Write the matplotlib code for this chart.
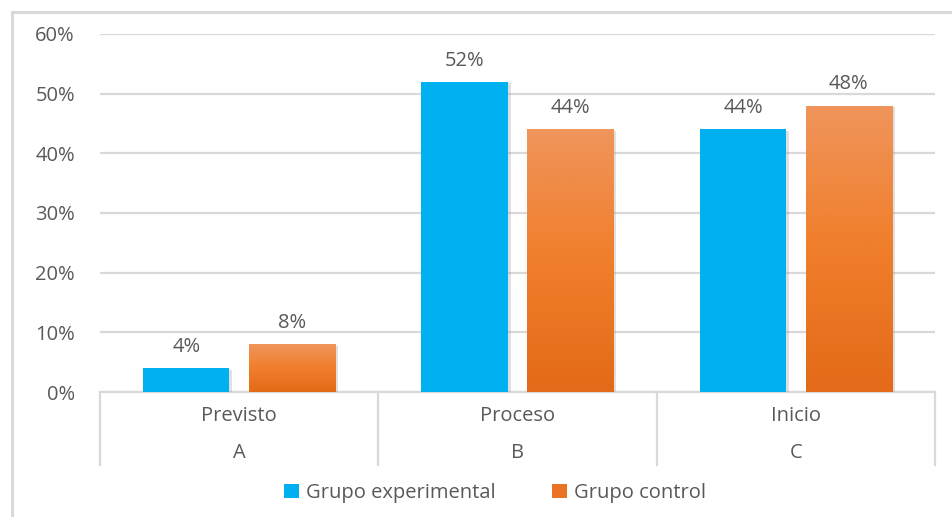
import numpy as np
import matplotlib
matplotlib.use('Agg')
import matplotlib.pyplot as plt
import matplotlib.patheffects as pe
from matplotlib.colors import LinearSegmentedColormap
from matplotlib.patches import Patch

# ---------------------------------------------------------------
# Dados
# ---------------------------------------------------------------
niveis = ['Previsto', 'Proceso', 'Inicio']
letras = ['A', 'B', 'C']
grupo_experimental = [4, 52, 44]
grupo_control = [8, 44, 48]
series = ['Grupo experimental', 'Grupo control']
yticks = [0, 10, 20, 30, 40, 50, 60]

cor_azul = '#00B0F0'
cor_laranja = '#EA7426'
cor_texto = '#595959'
cor_grelha = '#D9D9D9'
fs = 14.5

plt.rcParams['font.family'] = ['Open Sans', 'DejaVu Sans']

fig = plt.figure(figsize=(9.53, 5.17), dpi=100, facecolor='white')
ax = fig.add_axes([100 / 953, 125 / 517, 835 / 953, 358 / 517])

# moldura exterior (só topo e esquerda ficam visíveis)
fig.add_artist(plt.Line2D([12 / 953, 12 / 953], [0, 1 - 12 / 517], color='#D9D9D9', lw=2.2,
                          transform=fig.transFigure))
fig.add_artist(plt.Line2D([12 / 953, 1], [1 - 12 / 517, 1 - 12 / 517], color='#D9D9D9', lw=2.2,
                          transform=fig.transFigure))

x = np.arange(len(niveis))
larg = 0.31
desl = 0.19

sombra = [pe.SimplePatchShadow(offset=(2, -1), shadow_rgbFace='#9A9A9A', alpha=0.3), pe.Normal()]

barras_az = ax.bar(x - desl, grupo_experimental, width=larg, color=cor_azul, zorder=3,
                   path_effects=sombra)
barras_lj = ax.bar(x + desl, grupo_control, width=larg, color=cor_laranja, zorder=3,
                   path_effects=sombra)

# gradiente vertical nas barras laranja
grad = LinearSegmentedColormap.from_list('lj', ['#E36A18', '#F07E2A', '#F0955C'], N=512)
for b in barras_lj:
    x0, w, h = b.get_x(), b.get_width(), b.get_height()
    img = ax.imshow(np.linspace(0, 1, 512).reshape(-1, 1), cmap=grad, origin='lower',
                    extent=[x0, x0 + w, 0, h], aspect='auto', zorder=4,
                    interpolation='bilinear')
    img.set_clip_path(b)

# rótulos de valor
for barras, vals in ((barras_az, grupo_experimental), (barras_lj, grupo_control)):
    for b, v in zip(barras, vals):
        ax.annotate(f'{v}%', (b.get_x() + b.get_width() / 2, v), xytext=(0, 8),
                    textcoords='offset points', ha='center', va='bottom',
                    fontsize=fs, color=cor_texto)

ax.set_xlim(-0.5, 2.5)
ax.set_ylim(0, 60)
ax.set_yticks(yticks)
ax.set_yticklabels([f'{t}%' for t in yticks], fontsize=fs, color=cor_texto)
ax.tick_params(axis='y', length=0, pad=18)
ax.set_xticks([])
for s in ax.spines.values():
    s.set_visible(False)
ax.grid(axis='y', color=cor_grelha, lw=1.6, zorder=0)
ax.set_axisbelow(True)
ax.set_facecolor('none')

# eixo de categorias em dois níveis
trans = ax.get_xaxis_transform()
ax.plot([-0.5, 2.5], [0, 0], color=cor_grelha, lw=1.6, transform=trans, clip_on=False, zorder=2)
for sep in [-0.5, 0.5, 1.5, 2.5]:
    ax.plot([sep, sep], [0, -0.204], color=cor_grelha, lw=1.6, transform=trans, clip_on=False)
for xi, nivel, letra in zip(x, niveis, letras):
    ax.text(xi, -0.068, nivel, transform=trans, ha='center', va='center',
            fontsize=fs, color=cor_texto)
    ax.text(xi, -0.171, letra, transform=trans, ha='center', va='center',
            fontsize=fs, color=cor_texto)

handles = [Patch(facecolor=cor_azul), Patch(facecolor=cor_laranja)]
fig.legend(handles, series, loc='center', bbox_to_anchor=(495 / 953, 1 - 493 / 517), ncol=2,
           frameon=False, fontsize=fs, labelcolor=cor_texto, handlelength=0.75,
           handleheight=0.75, handletextpad=0.35, columnspacing=2.8)

fig.savefig('out.png', dpi=100, facecolor='white')
